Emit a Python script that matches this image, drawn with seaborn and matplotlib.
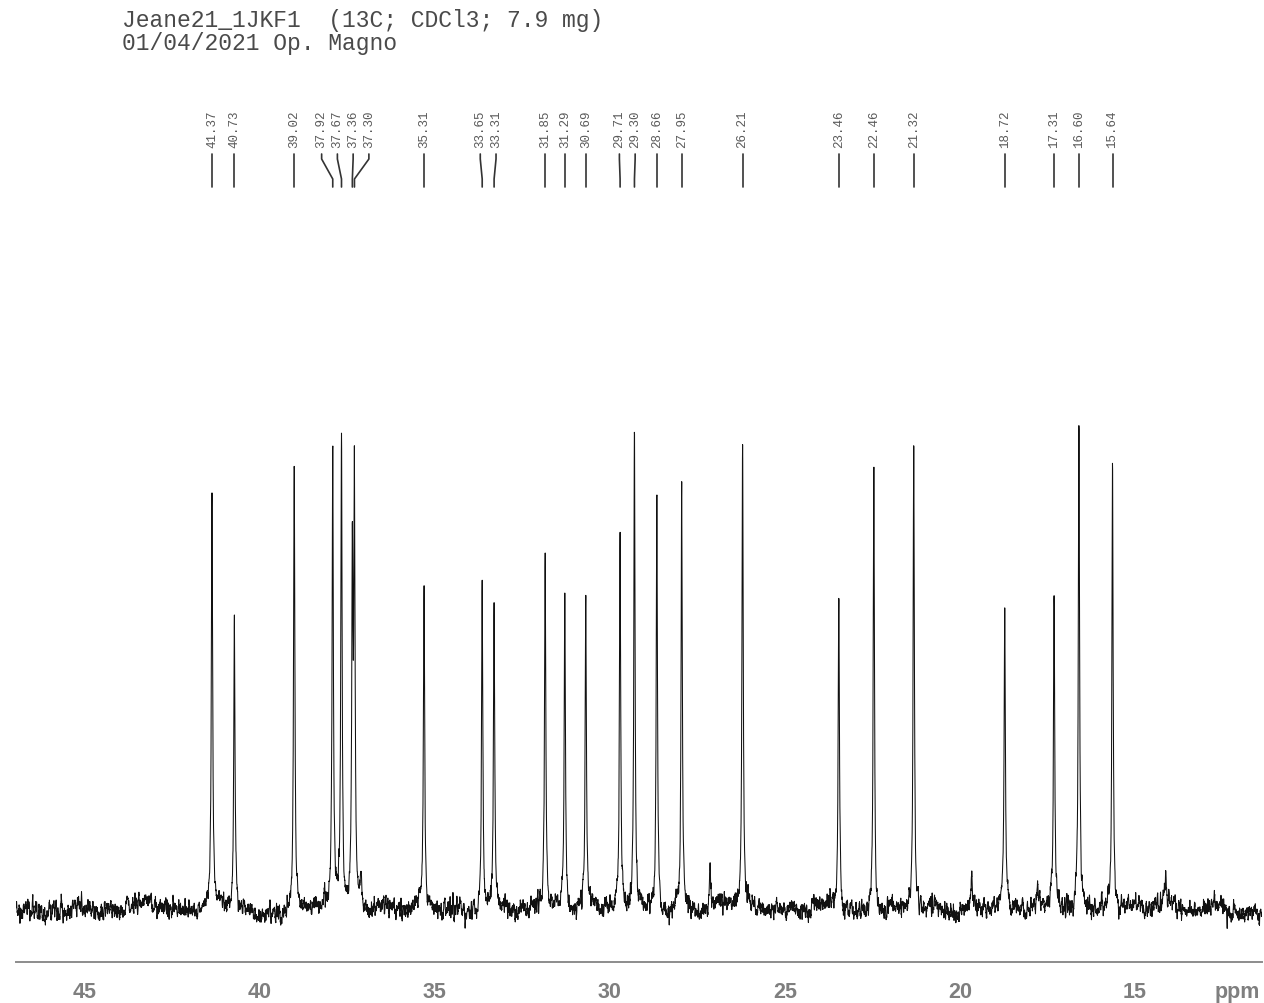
import numpy as np
import pandas as pd
import matplotlib
matplotlib.use("Agg")
import matplotlib.pyplot as plt
import matplotlib.transforms as mtransforms
import seaborn as sns

# 13C peak list (ppm) with picked labels, and peak heights in display units
peak_ppm = [41.37, 40.73, 39.02, 37.92, 37.67, 37.36, 37.30, 35.31, 33.65, 33.31,
            31.85, 31.29, 30.69, 29.71, 29.30, 28.66, 27.95, 26.21, 23.46, 22.46,
            21.32, 18.72, 17.31, 16.60, 15.64]
peak_height = [411, 301, 449, 465, 468, 335, 420, 323, 331, 292,
               356, 309, 310, 370, 478, 411, 425, 460, 317, 439,
               463, 307, 313, 486, 444]

# small unpicked signals
minor_ppm = [37.12, 27.14, 19.66, 17.78, 14.12]
minor_height = [25, 38, 42, 26, 36]

title_line1 = "Jeane21_1JKF1  (13C; CDCl3; 7.9 mg)"
title_line2 = "01/04/2021 Op. Magno"

x_left, x_right = 46.97, 11.37
major_ticks = [45, 40, 35, 30, 25, 20, 15]

# ---- build the spectrum trace ----
ppm = np.arange(x_right, x_left, 0.004)
gamma = 0.021
signal = np.zeros_like(ppm)
for c, h in zip(peak_ppm + minor_ppm, peak_height + minor_height):
    signal += h * gamma**2 / ((ppm - c) ** 2 + gamma**2)

rng = np.random.default_rng(7)
noise = rng.normal(0, 10.5, ppm.size)
noise = np.convolve(noise, np.ones(5) / 5, mode="same")
wander = np.convolve(rng.normal(0, 1.0, ppm.size), np.ones(100) / 100, mode="same") * 30
intensity = signal + noise + wander

spec = pd.DataFrame({"ppm": ppm, "intensity": intensity})

# ---- figure ----
sns.set_theme(style="white")
W, H = 1264, 1004
fig = plt.figure(figsize=(W / 100, H / 100), dpi=100)
ax_bottom_px, ax_top_px = 963, 60
ax = fig.add_axes([16 / W, (H - ax_bottom_px) / H, 1246 / W, (ax_bottom_px - ax_top_px) / H])

sns.lineplot(data=spec, x="ppm", y="intensity", ax=ax, sort=False, estimator=None,
             color="#111111", linewidth=0.75)

ax.set_xlim(x_left, x_right)
ax.set_ylim(-53, ax_bottom_px - ax_top_px - 53)
ax.set_xlabel("")
ax.set_ylabel("")
ax.set_yticks([])
for s in ["top", "left", "right"]:
    ax.spines[s].set_visible(False)
ax.spines["bottom"].set_color("#8c8c8c")
ax.spines["bottom"].set_linewidth(1.4)

ax.set_xticks(major_ticks)
ax.set_xticks(np.arange(12, 47, 1), minor=True)
ax.tick_params(axis="x", which="major", direction="out", length=7.5, width=1.2,
               color="#8c8c8c", pad=6, labelsize=15.5, labelcolor="#7f7f7f")
ax.tick_params(axis="x", which="minor", direction="out", length=2.5, width=1.0,
               color="#8c8c8c")
ax.xaxis.set_major_formatter(matplotlib.ticker.FuncFormatter(lambda v, p: f"{v:g}"))
for lab in ax.get_xticklabels():
    lab.set_fontfamily("Liberation Sans")
    lab.set_fontweight("bold")

fig.text(1237 / W, (H - 998) / H, "ppm", ha="center", va="baseline",
         fontsize=15.5, fontweight="bold", color="#7f7f7f", family="Liberation Sans")

# ---- title ----
fig.text(122 / W, (H - 27) / H, title_line1, ha="left", va="baseline",
         fontsize=16.6, color="#4a4a4a", family="Liberation Mono")
fig.text(122 / W, (H - 50) / H, title_line2, ha="left", va="baseline",
         fontsize=16.6, color="#4a4a4a", family="Liberation Mono")

# ---- peak labels: spread crowded labels apart ----
def spread_labels(pos, gap):
    pos = list(pos)
    clusters = [[i] for i in range(len(pos))]
    lab = list(pos)
    changed = True
    while changed:
        changed = False
        merged = [clusters[0]]
        for cl in clusters[1:]:
            prev = merged[-1]
            if lab[prev[-1]] - lab[cl[0]] < gap - 1e-9:
                merged[-1] = prev + cl
                changed = True
            else:
                merged.append(cl)
        clusters = merged
        for cl in clusters:
            centre = np.mean([pos[i] for i in cl])
            n = len(cl)
            for k, i in enumerate(cl):
                lab[i] = centre + (n - 1) / 2 * gap - k * gap if n > 1 else pos[i]
    return lab

label_ppm = spread_labels(peak_ppm, 0.45)

trans = mtransforms.blended_transform_factory(ax.transData, fig.transFigure)
def fy(px):
    return (H - px) / H

for p, lp in zip(peak_ppm, label_ppm):
    ax.text(lp, fy(148), f"{p:.2f}", rotation=90, ha="center", va="bottom",
            fontsize=9, color="#5a5a5a", family="Liberation Mono",
            transform=trans, clip_on=False)
    xs = [lp, lp, p, p]
    ys = [fy(155), fy(160), fy(180), fy(188)]
    ax.plot(xs, ys, color="#333333", linewidth=1.2, transform=trans, clip_on=False)

fig.savefig("out.png", dpi=100)
